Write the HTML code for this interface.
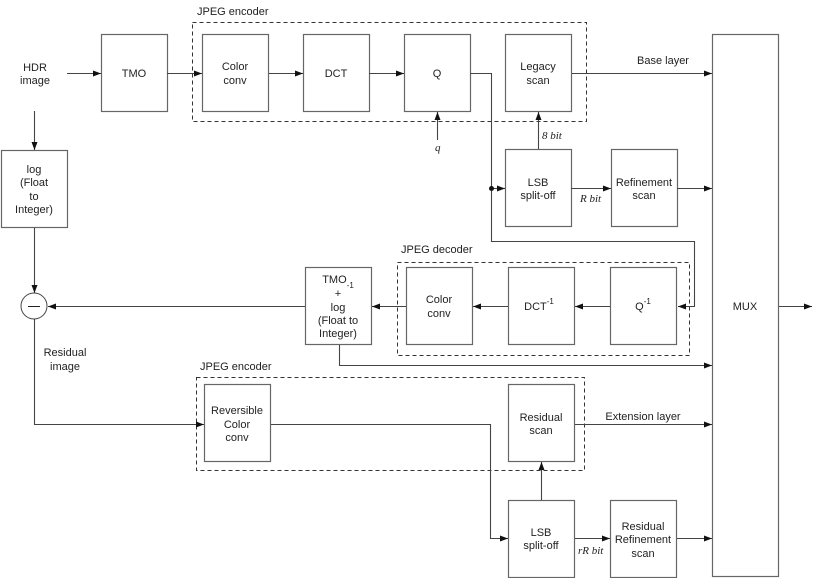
<!DOCTYPE html>
<html><head><meta charset="utf-8"><style>body{margin:0;background:#fff}svg{display:block}text{font-family:"Liberation Sans",sans-serif;font-size:11px;fill:#222}</style></head><body>
<svg width="830" height="578" viewBox="0 0 830 578" xmlns="http://www.w3.org/2000/svg">
<defs><marker id="a" markerWidth="8" markerHeight="6" refX="8" refY="3" orient="auto" markerUnits="userSpaceOnUse"><path d="M0,0L8,3L0,6z" fill="#111"/></marker></defs>
<g fill="none" stroke="#333" stroke-width="1" stroke-dasharray="4,3">
<rect x="192.5" y="22.5" width="394" height="99"/>
<rect x="397.5" y="262.5" width="292" height="93"/>
<rect x="196.5" y="377.5" width="388" height="93"/>
</g>
<g fill="#fff" stroke="#666" stroke-width="1.2">
<rect x="101.5" y="34.5" width="66" height="77"/>
<rect x="202.5" y="34.5" width="66" height="77"/>
<rect x="303.5" y="34.5" width="66" height="77"/>
<rect x="404.5" y="34.5" width="66" height="77"/>
<rect x="505.5" y="34.5" width="66" height="77"/>
<rect x="712.5" y="34.5" width="66" height="542"/>
<rect x="1.5" y="150.5" width="66" height="77"/>
<rect x="505.5" y="149.5" width="66" height="77"/>
<rect x="611.5" y="149.5" width="66" height="77"/>
<rect x="406.5" y="267.5" width="66" height="77"/>
<rect x="508.5" y="267.5" width="66" height="77"/>
<rect x="610.5" y="267.5" width="66" height="77"/>
<rect x="305.5" y="267.5" width="66" height="77"/>
<rect x="204.5" y="384.5" width="66" height="77"/>
<rect x="508.5" y="384.5" width="66" height="77"/>
<rect x="508.5" y="500.5" width="66" height="77"/>
<rect x="610.5" y="500.5" width="66" height="77"/>
</g>
<circle cx="34" cy="306" r="13" fill="#fff" stroke="#444"/>
<line x1="28" y1="306.5" x2="40" y2="306.5" stroke="#222"/>
<g fill="none" stroke="#444" stroke-width="1.1" marker-end="url(#a)">
<path d="M67,73.5H101"/><path d="M167,73.5H202"/><path d="M269,73.5H303"/><path d="M369,73.5H404"/>
<path d="M572,73.5H712"/>
<path d="M437.5,140V112"/>
<path d="M538.5,149V112"/>
<path d="M491,188.5H505"/>
<path d="M571,188.5H611"/>
<path d="M677,188.5H712"/>
<path d="M470,73.5H491.5V241.5H694.5V306.5H678"/>
<path d="M610,306.5H575"/>
<path d="M508,306.5H473"/>
<path d="M406,306.5H372"/>
<path d="M305,306.5H48"/>
<path d="M34.5,111V150"/>
<path d="M34.5,228V293"/>
<path d="M339.5,345V365.5H712"/>
<path d="M34.5,319V424.5H204"/>
<path d="M271,424.5H490.5V538.5H508"/>
<path d="M541.5,500V462"/>
<path d="M575,424.5H712"/>
<path d="M575,538.5H610"/>
<path d="M677,538.5H712"/>
<path d="M779,306.5H812"/>
</g>
<circle cx="491.5" cy="188.5" r="2.5" fill="#111"/>
<g text-anchor="middle">
<text x="35" y="71">HDR</text><text x="35" y="84">image</text>
<text x="134" y="77">TMO</text>
<text x="235" y="70">Color</text><text x="235" y="84">conv</text>
<text x="336" y="77">DCT</text>
<text x="437" y="77">Q</text>
<text x="538" y="70">Legacy</text><text x="538" y="84">scan</text>
<text x="663" y="64">Base layer</text>
<text x="745" y="310">MUX</text>
<text x="34" y="173">log</text><text x="34" y="186">(Float</text><text x="34" y="200">to</text><text x="34" y="213">Integer)</text>
<text x="538" y="186">LSB</text><text x="538" y="199">split-off</text>
<text x="644" y="186">Refinement</text><text x="644" y="199">scan</text>
<text x="439" y="303">Color</text><text x="439" y="317">conv</text>
<text x="539" y="310">DCT<tspan font-size="8" dy="-6">-1</tspan></text>
<text x="643" y="310">Q<tspan font-size="8" dy="-6">-1</tspan></text>
<text x="338" y="283">TMO<tspan font-size="8" dy="5">-1</tspan></text>
<text x="338" y="297">+</text><text x="338" y="311">log</text><text x="338" y="324">(Float to</text><text x="338" y="337">Integer)</text>
<text x="237" y="414">Reversible</text><text x="237" y="428">Color</text><text x="237" y="441">conv</text>
<text x="541" y="421">Residual</text><text x="541" y="434">scan</text>
<text x="643" y="420">Extension layer</text>
<text x="541" y="536">LSB</text><text x="541" y="549">split-off</text>
<text x="643" y="530">Residual</text><text x="643" y="543">Refinement</text><text x="643" y="557">scan</text>
<text x="65" y="356">Residual</text><text x="65" y="370">image</text>
</g>
<text x="197" y="15">JPEG encoder</text>
<text x="401" y="253">JPEG decoder</text>
<text x="200" y="370">JPEG encoder</text>
<g font-family="Liberation Serif,serif" font-style="italic">
<text x="435" y="151" style="font-family:'Liberation Serif',serif;font-size:11px">q</text>
<text x="542" y="139" style="font-family:'Liberation Serif',serif;font-size:11px">8 bit</text>
<text x="580" y="202" style="font-family:'Liberation Serif',serif;font-size:11px">R bit</text>
<text x="578" y="554" style="font-family:'Liberation Serif',serif;font-size:11px">rR bit</text>
</g>
</svg>
</body></html>
